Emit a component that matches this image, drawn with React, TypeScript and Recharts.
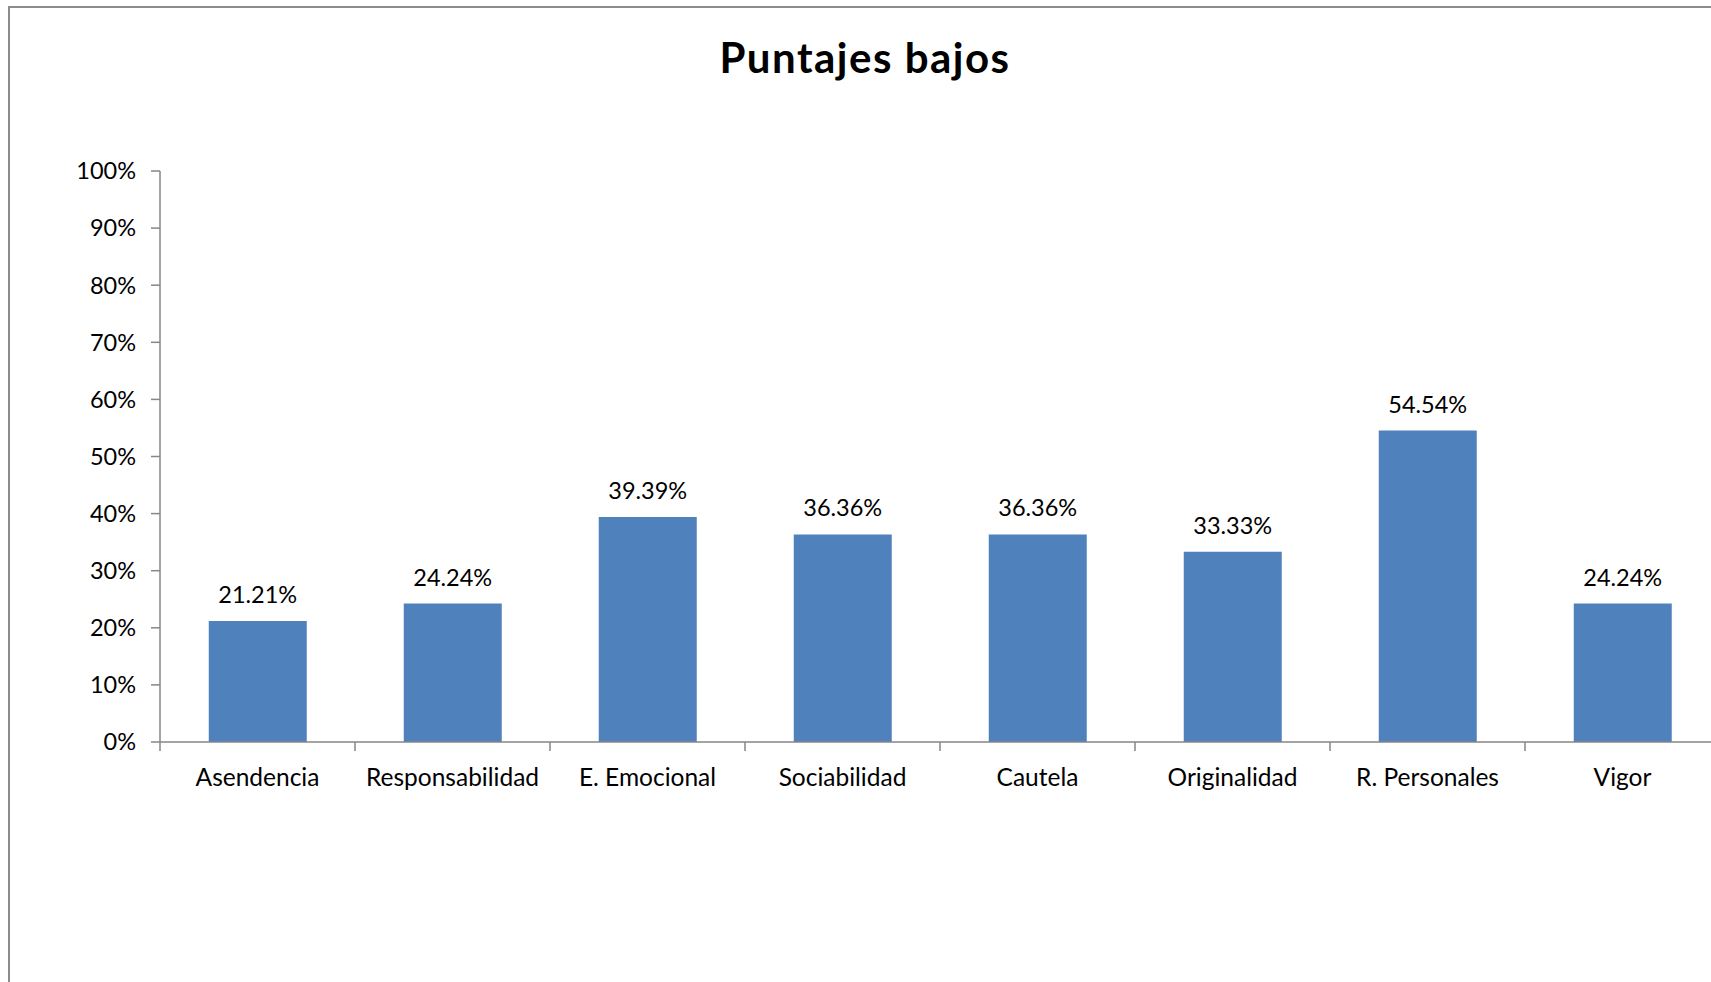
import { Bar, BarChart, LabelList, XAxis, YAxis } from "recharts"

const categories = [
  "Asendencia",
  "Responsabilidad",
  "E. Emocional",
  "Sociabilidad",
  "Cautela",
  "Originalidad",
  "R. Personales",
  "Vigor",
]

// percent of people with low scores per factor
const lowScores = [21.21, 24.24, 39.39, 36.36, 36.36, 33.33, 54.54, 24.24]

const yTicks = [0, 10, 20, 30, 40, 50, 60, 70, 80, 90, 100]

const data = categories.map((name, i) => ({ name, value: lowScores[i] }))

const FONT = "Lato, 'Open Sans', sans-serif"
const AXIS = "#868686"
const BLUE = "#4F81BD"

const CHART_W = 1712
const CHART_H = 975
const Y_AXIS_W = 151
const X_AXIS_H = 60
const MARGIN = { top: 164, right: 1, bottom: CHART_H - 735 - X_AXIS_H, left: 0 }
const PLOT_W = CHART_W - MARGIN.left - MARGIN.right - Y_AXIS_W
const BAND = PLOT_W / categories.length

function CategoryTick(props: any) {
  const { x, y, payload, index } = props
  const left = x - BAND / 2
  const right = x + BAND / 2
  return (
    <g>
      <line x1={left} x2={left} y1={y - 9} y2={y} stroke={AXIS} strokeWidth={1.5} />
      {index === categories.length - 1 && (
        <line x1={right} x2={right} y1={y - 9} y2={y} stroke={AXIS} strokeWidth={1.5} />
      )}
      <text x={x} y={y} dy={35} textAnchor="middle" fill="#000" fontSize={24.5} fontFamily={FONT}>
        {payload.value}
      </text>
    </g>
  )
}

export default function App() {
  return (
    <div
      style={{
        position: "absolute",
        left: 0,
        top: 0,
        width: 1711,
        height: 982,
        overflow: "hidden",
        background: "#fff",
      }}
    >
      <div
        style={{
          position: "absolute",
          left: 8,
          top: 6,
          width: 1800,
          height: 1100,
          border: "2px solid #8c8c8c",
        }}
      />
      <svg style={{ position: "absolute", left: 9, top: 0 }} width={CHART_W} height={100}>
        <text
          x={865 - 9}
          y={73}
          textAnchor="middle"
          fontFamily={FONT}
          fontWeight="bold"
          fontSize={42}
          letterSpacing={1.5}
          fill="#000"
        >
          Puntajes bajos
        </text>
      </svg>
      <div style={{ position: "absolute", left: 9, top: 7 }}>
        <BarChart width={CHART_W} height={CHART_H} data={data} margin={MARGIN} barCategoryGap="25%">
          <XAxis
            dataKey="name"
            height={X_AXIS_H}
            stroke={AXIS}
            strokeWidth={1.5}
            tickLine={false}
            tickSize={9}
            tickMargin={0}
            interval={0}
            tick={<CategoryTick />}
          />
          <YAxis
            width={Y_AXIS_W}
            domain={[0, 100]}
            ticks={yTicks}
            interval={0}
            stroke={AXIS}
            strokeWidth={1.5}
            tickSize={9}
            tickMargin={15}
            tick={{ fill: "#000", fontSize: 23.5, fontFamily: FONT }}
            tickFormatter={(v) => `${v}%`}
          />
          <Bar dataKey="value" fill={BLUE} isAnimationActive={false}>
            <LabelList
              dataKey="value"
              position="top"
              offset={18}
              fill="#000"
              fontSize={23.5}
              fontFamily={FONT}
              formatter={(v: any) => `${Number(v).toFixed(2)}%`}
            />
          </Bar>
        </BarChart>
      </div>
    </div>
  )
}
